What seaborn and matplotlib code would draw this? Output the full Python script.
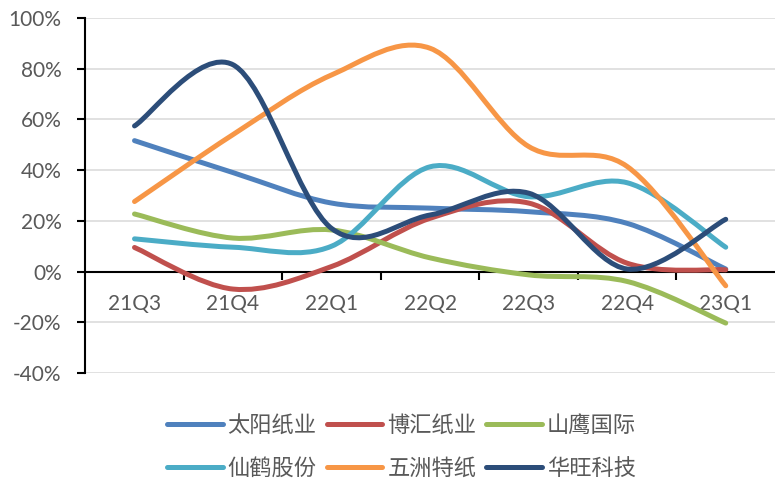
import numpy as np
import matplotlib
matplotlib.use('Agg')
import matplotlib.pyplot as plt
from matplotlib.path import Path
from matplotlib.patches import PathPatch
from matplotlib.lines import Line2D
from matplotlib.ticker import FuncFormatter, FixedLocator
import seaborn as sns

# 季度
quarters = ['21Q3', '21Q4', '22Q1', '22Q2', '22Q3', '22Q4', '23Q1']

# 各公司数值 (%)
taiyang = [51.6, 39.0, 27.0, 25.0, 23.6, 19.0, 1.0]
bohui = [9.5, -6.9, 2.0, 21.0, 27.0, 3.3, 0.7]
shanying = [22.7, 13.2, 16.4, 5.4, -1.3, -3.9, -20.3]
xianhe = [12.9, 9.6, 10.0, 41.3, 29.5, 35.0, 9.6]
wuzhou = [27.6, 54.0, 77.5, 88.0, 49.3, 41.4, -5.6]
huawang = [57.4, 81.5, 17.0, 22.3, 30.9, 1.0, 20.6]

names = ['太阳纸业', '博汇纸业', '山鹰国际', '仙鹤股份', '五洲特纸', '华旺科技']
series = [taiyang, bohui, shanying, xianhe, wuzhou, huawang]
colors = ['#4F81BD', '#C0504D', '#9BBB59', '#4BACC6', '#F79646', '#2C4D79']

sns.set_theme(style='white')
plt.rcParams['font.family'] = ['Lato', 'Noto Sans CJK SC', 'DejaVu Sans']


def smooth_path(xs, ys):
    # Excel风格平滑线: 三次贝塞尔 (Catmull-Rom 控制点)
    pts = np.column_stack([xs, ys]).astype(float)
    n = len(pts)
    verts = [pts[0]]
    codes = [Path.MOVETO]
    for i in range(n - 1):
        p0 = pts[i - 1] if i > 0 else pts[i]
        p1 = pts[i]
        p2 = pts[i + 1]
        p3 = pts[i + 2] if i + 2 < n else pts[i + 1]
        c1 = p1 + (p2 - p0) / 6.0
        c2 = p2 - (p3 - p1) / 6.0
        verts += [c1, c2, p2]
        codes += [Path.CURVE4] * 3
    return Path(verts, codes)


fig, ax = plt.subplots(figsize=(7.75, 4.82), dpi=100)
fig.subplots_adjust(left=0.11, right=1.0, top=0.963, bottom=0.226)

x = np.arange(len(quarters))
for name, vals, c in zip(names, series, colors):
    patch = PathPatch(smooth_path(x, vals), facecolor='none', edgecolor=c,
                      lw=3.6, capstyle='round', joinstyle='round', zorder=3)
    ax.add_patch(patch)

ax.set_xlim(-0.5, len(quarters) - 0.5)
ax.set_ylim(-40, 100)
ax.set_yticks(np.arange(-40, 101, 20))
ax.yaxis.set_major_formatter(FuncFormatter(lambda v, p: f'{v:.0f}%'))
ax.grid(axis='y', color='#D9D9D9', lw=1.1)
ax.grid(axis='x', visible=False)
ax.set_axisbelow(True)

ax.set_xticks(x)
ax.set_xticklabels(quarters)
ax.xaxis.set_minor_locator(FixedLocator(np.arange(0.5, len(quarters) - 1, 1)))
ax.tick_params(axis='x', which='major', length=0, pad=16, labelsize=15, labelcolor='#595959')
ax.tick_params(axis='x', which='minor', bottom=True, length=6, width=1.5, color='black', direction='out')
ax.tick_params(axis='y', left=True, length=6, width=1.5, color='black', pad=11, labelsize=15, labelcolor='#595959')

for s in ['top', 'right']:
    ax.spines[s].set_visible(False)
ax.spines['left'].set_color('black')
ax.spines['left'].set_linewidth(1.5)
ax.spines['bottom'].set_position(('data', 0))
ax.spines['bottom'].set_color('black')
ax.spines['bottom'].set_linewidth(1.5)

# 图例按行排列
order = [0, 3, 1, 4, 2, 5]
handles = [Line2D([0], [0], color=colors[i], lw=3.6, solid_capstyle='round') for i in order]
labels = [names[i] for i in order]
fig.legend(handles, labels, loc='center', bbox_to_anchor=(0.518, 0.073), ncol=3,
           frameon=False, prop={'family': ['Noto Sans CJK SC'], 'size': 16},
           labelcolor='#595959', handlelength=2.5, handletextpad=0.23,
           columnspacing=0.45, labelspacing=0.9)

fig.savefig('out.png', dpi=100)
